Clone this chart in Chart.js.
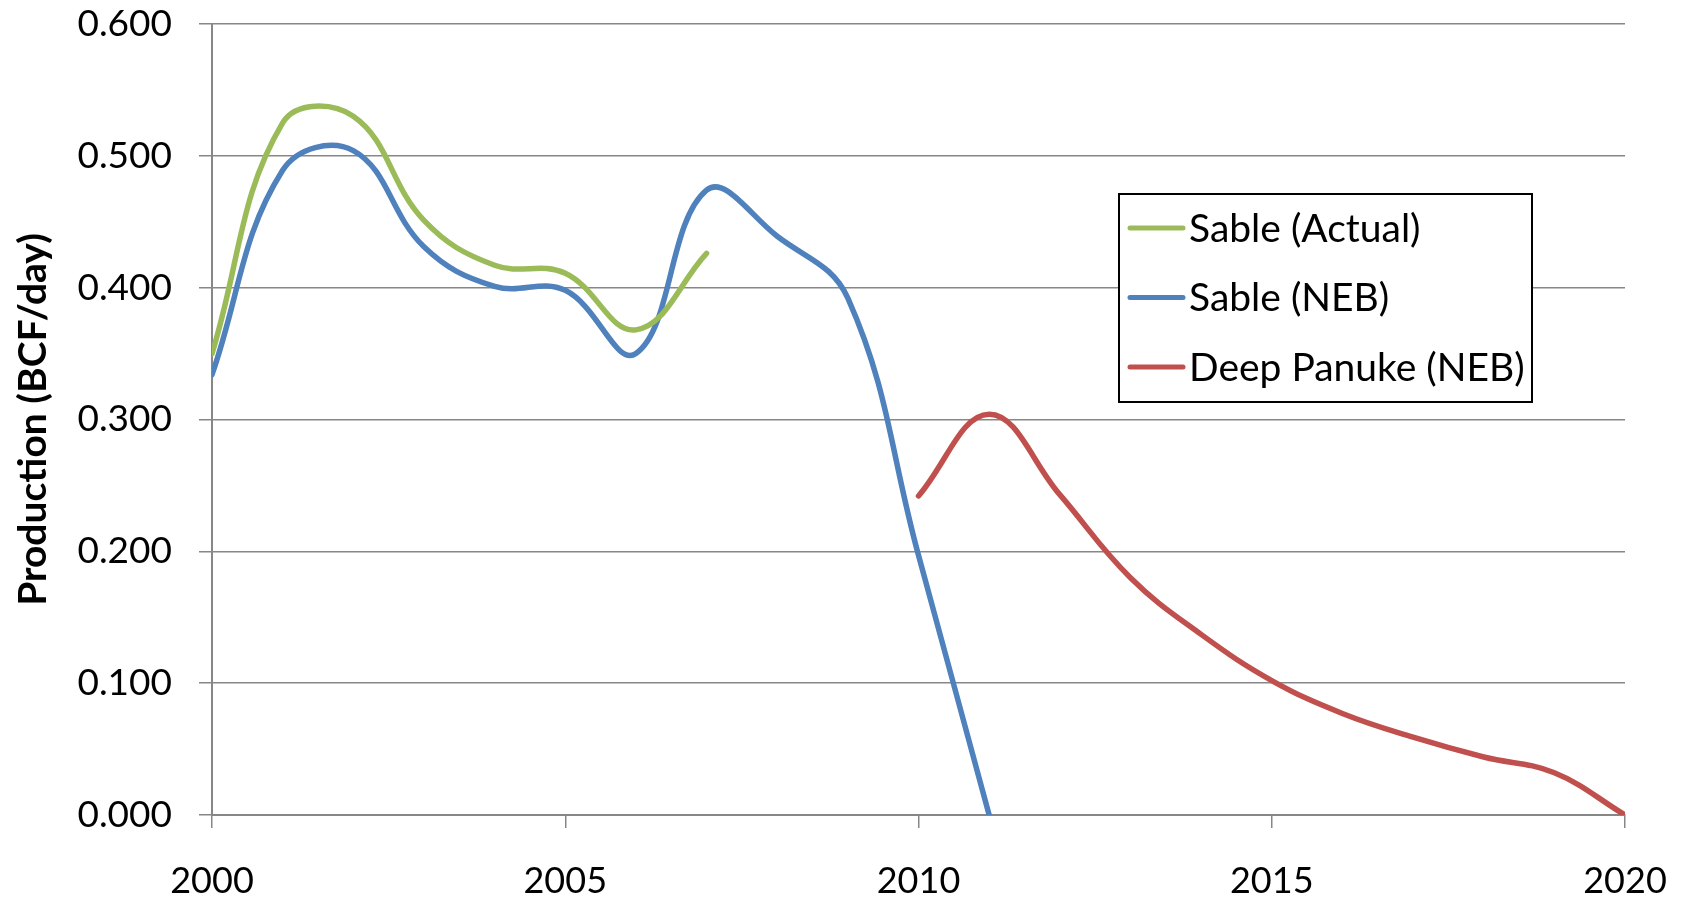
<!DOCTYPE html>
<html>
<head>
<meta charset="utf-8">
<script src="https://cdn.jsdelivr.net/npm/chart.js@4"></script>
<style>
  html, body { margin: 0; padding: 0; background: #fff; }
  #wrap { width: 1688px; height: 902px; }
</style>
</head>
<body>
<div id="wrap"><canvas id="chart" width="1688" height="902"></canvas></div>
<script>
const years = [2000, 2001, 2002, 2003, 2004, 2005, 2006, 2007, 2008, 2009, 2010,
               2011, 2012, 2013, 2014, 2015, 2016, 2017, 2018, 2019, 2020];
const sableActual = [0.350, 0.525, 0.530, 0.451, 0.417, 0.411, 0.368, 0.426];
const sableNeb = [0.334, 0.489, 0.504, 0.431, 0.401, 0.398, 0.350, 0.474, 0.439, 0.392, 0.197, 0.000];
const deepPanukeYears = [2010, 2011, 2012, 2013, 2014, 2015, 2016, 2017, 2018, 2019, 2020];
const deepPanuke = [0.242, 0.304, 0.243, 0.180, 0.137, 0.102, 0.077, 0.059, 0.044, 0.032, 0.000];
const yTicks = [0, 0.1, 0.2, 0.3, 0.4, 0.5, 0.6];

const green = "#9bbb59";
const blue = "#4f81bd";
const red = "#c0504d";
const gridColor = "#878787";
const fontFamily = "Lato, 'Open Sans', sans-serif";

const toPoints = (xs, ys) => ys.map((y, i) => ({ x: xs[i], y: y }));

// legend drawn inside the plot, Excel style
const boxLegend = {
    id: "boxLegend",
    afterDraw(chart) {
        const ctx = chart.ctx;
        const left = 1119, top = 194, w = 413, h = 208;
        ctx.save();
        ctx.fillStyle = "#fff";
        ctx.fillRect(left, top, w, h);
        ctx.strokeStyle = "#000";
        ctx.lineWidth = 2;
        ctx.strokeRect(left, top, w, h);
        ctx.font = "39px " + fontFamily;
        ctx.textBaseline = "middle";
        ctx.lineCap = "round";
        chart.data.datasets.forEach((ds, i) => {
            const y = top + 34 + i * 69.5;
            ctx.strokeStyle = ds.borderColor;
            ctx.lineWidth = 5;
            ctx.beginPath();
            ctx.moveTo(left + 11, y);
            ctx.lineTo(left + 64, y);
            ctx.stroke();
            ctx.fillStyle = "#000";
            ctx.fillText(ds.label, left + 70, y + 1);
        });
        ctx.restore();
    }
};

const config = {
    type: "line",
    data: {
        datasets: [
            {
                label: "Sable (Actual)",
                data: toPoints(years, sableActual),
                borderColor: green,
                backgroundColor: green
            },
            {
                label: "Sable (NEB)",
                data: toPoints(years, sableNeb),
                borderColor: blue,
                backgroundColor: blue
            },
            {
                label: "Deep Panuke (NEB)",
                data: toPoints(deepPanukeYears, deepPanuke),
                borderColor: red,
                backgroundColor: red
            }
        ]
    },
    options: {
        responsive: false,
        animation: false,
        layout: {
            padding: { top: 24, right: 63, bottom: 0, left: 0 }
        },
        elements: {
            line: { borderWidth: 5.5, tension: 0.4, borderCapStyle: "round" },
            point: { radius: 0 }
        },
        plugins: {
            legend: { display: false },
            tooltip: { enabled: false }
        },
        scales: {
            x: {
                type: "linear",
                min: 2000,
                max: 2020,
                afterFit: s => {
                    s.height = 87;
                    s.paddingLeft = 0;
                    s.paddingRight = 0;
                },
                grid: {
                    drawOnChartArea: false,
                    color: gridColor,
                    lineWidth: 1.5,
                    tickLength: 13
                },
                border: { color: gridColor, width: 2 },
                ticks: {
                    stepSize: 5,
                    padding: 32,
                    color: "#000",
                    maxRotation: 0,
                    callback: v => String(v),
                    font: { family: fontFamily, size: 36 }
                }
            },
            y: {
                min: 0,
                max: 0.6,
                afterFit: s => {
                    s.width = 212;
                    s.paddingTop = 0;
                    s.paddingBottom = 0;
                },
                afterBuildTicks: s => { s.ticks = yTicks.map(v => ({ value: v })); },
                grid: {
                    color: gridColor,
                    lineWidth: 1.5,
                    tickLength: 13
                },
                border: { color: gridColor, width: 2 },
                ticks: {
                    padding: 27,
                    color: "#000",
                    callback: v => v.toFixed(3),
                    font: { family: fontFamily, size: 37 }
                },
                title: {
                    display: true,
                    text: "Production (BCF/day)",
                    color: "#000",
                    padding: { top: 10, bottom: 0 },
                    font: { family: fontFamily, size: 39, weight: "bold" }
                }
            }
        }
    },
    plugins: [boxLegend]
};

new Chart(document.getElementById("chart"), config);
</script>
</body>
</html>
